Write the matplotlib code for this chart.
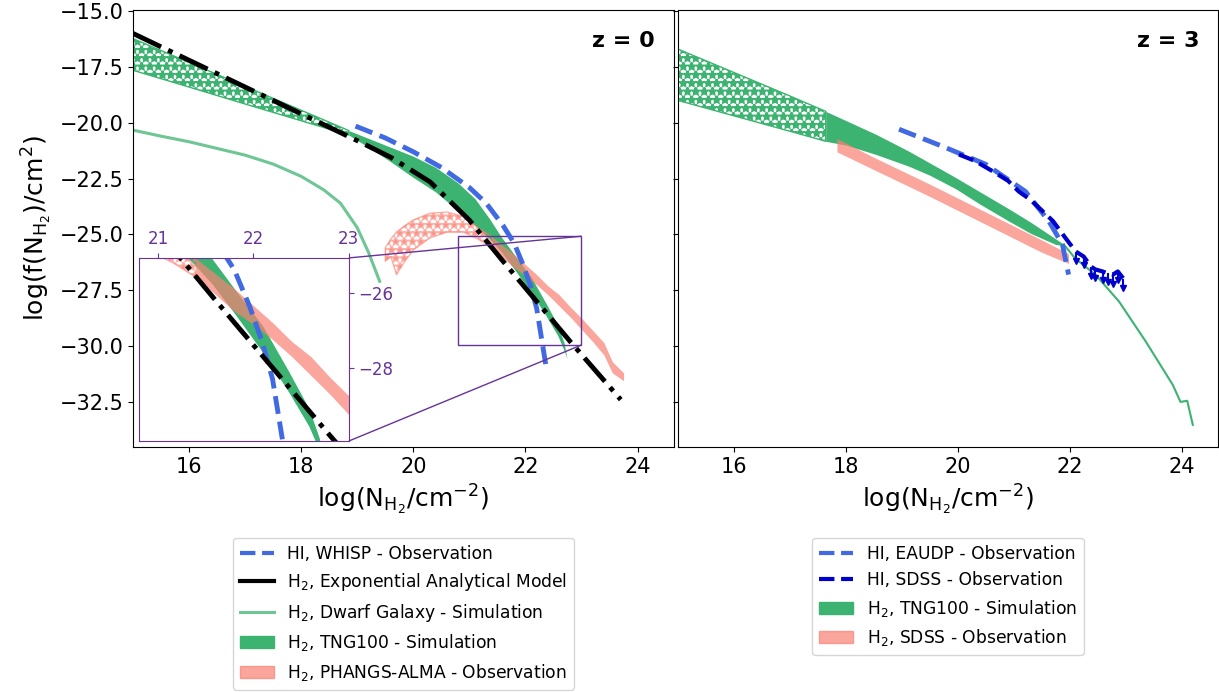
import numpy as np
import matplotlib
matplotlib.use('Agg')
import matplotlib.pyplot as plt
from matplotlib.lines import Line2D
from matplotlib.patches import Patch
from mpl_toolkits.axes_grid1.inset_locator import mark_inset

plt.rcParams['hatch.linewidth'] = 1.8

green = 'mediumseagreen'
pink = 'salmon'
purple = 'rebeccapurple'

# ---- z = 0 ----
tng0_hatch_x = [15.0, 16.0, 17.0, 18.0, 18.85]
tng0_hatch_hi = [-16.23, -17.3, -18.37, -19.44, -20.35]
tng0_hatch_lo = [-17.65, -18.4, -19.16, -19.91, -20.55]

tng0_x = [18.85, 19.2, 19.6, 20.0, 20.4, 20.8, 21.1, 21.36, 21.56, 21.8, 22.1, 22.37, 22.58, 22.69, 22.74]
tng0_hi = [-20.35, -20.7, -21.1, -21.5, -22.0, -22.7, -23.4, -24.3, -25.08, -25.9, -26.9, -28.1, -29.08, -29.87, -30.55]
tng0_lo = [-20.55, -21.1, -21.75, -22.45, -23.1, -23.95, -24.6, -25.2, -25.75, -26.55, -27.6, -28.65, -29.55, -30.2, -30.55]

exp_x = [15.0, 16.0, 17.0, 18.0, 19.0, 19.6, 20.3, 21.0, 21.6, 22.2, 22.8, 23.7]
exp_y = [-16.0, -17.2, -18.4, -19.6, -20.8, -21.55, -22.65, -24.36, -26.2, -28.0, -29.8, -32.4]

whisp_x = [18.97, 19.5, 20.0, 20.5, 21.0, 21.3, 21.6, 21.8, 21.96, 22.09, 22.2, 22.29, 22.38]
whisp_y = [-20.15, -20.68, -21.3, -22.0, -22.9, -23.6, -24.6, -25.4, -26.37, -27.3, -28.3, -29.7, -31.1]

dwarf_x = [15.0, 15.5, 16.0, 16.5, 17.0, 17.5, 18.0, 18.4, 18.7, 19.0, 19.2, 19.4]
dwarf_y = [-20.33, -20.6, -20.85, -21.15, -21.45, -21.85, -22.4, -23.0, -23.6, -24.7, -25.8, -27.1]

phangs_hatch_x = [19.5, 19.6, 19.7, 19.85, 20.0, 20.3, 20.6, 20.9, 21.15, 21.4]
phangs_hatch_hi = [-25.6, -25.2, -24.9, -24.6, -24.35, -24.05, -24.0, -24.2, -24.7, -25.1]
phangs_hatch_lo = [-26.2, -26.0, -26.8, -26.2, -25.7, -25.15, -24.9, -24.9, -25.2, -25.6]

phangs_x = [21.4, 21.6, 21.8, 22.0, 22.2, 22.4, 22.6, 22.8, 23.0, 23.2, 23.4, 23.55, 23.75]
phangs_hi = [-25.1, -25.5, -25.9, -26.35, -26.8, -27.3, -27.7, -28.25, -28.75, -29.3, -29.85, -30.7, -31.2]
phangs_lo = [-25.6, -26.05, -26.5, -26.85, -27.25, -27.7, -28.2, -28.7, -29.25, -29.8, -30.4, -31.2, -31.55]

# ---- z = 3 ----
tng3_hatch_x = [15.0, 16.0, 17.0, 17.64]
tng3_hatch_hi = [-16.7, -17.75, -18.8, -19.49]
tng3_hatch_lo = [-19.0, -19.69, -20.38, -20.83]

tng3_x = [17.64, 18.0, 18.54, 19.13, 19.5, 19.96, 20.4, 20.91, 21.3, 21.75, 21.9]
tng3_hi = [-19.49, -19.9, -20.52, -21.28, -21.8, -22.45, -23.1, -23.85, -24.45, -25.2, -25.45]
tng3_lo = [-20.83, -21.0, -21.42, -21.95, -22.35, -22.95, -23.65, -24.4, -24.95, -25.45, -25.5]

tng3_tail_x = [21.9, 22.1, 22.46, 22.88, 23.36, 23.84, 23.98, 24.1, 24.2]
tng3_tail_y = [-25.47, -26.08, -26.8, -28.0, -29.8, -31.73, -32.5, -32.45, -33.53]

sdss_h2_x = [17.84, 18.5, 19.5, 20.5, 21.5, 21.98]
sdss_h2_hi = [-20.7, -21.55, -22.75, -24.0, -25.25, -25.86]
sdss_h2_lo = [-21.3, -22.1, -23.3, -24.55, -25.8, -26.3]

eaudp_x = [18.95, 19.73, 20.5, 21.21, 21.63, 21.87, 21.98]
eaudp_y = [-20.29, -21.06, -21.86, -23.08, -24.42, -25.45, -26.8]

sdss_hi_x = [20.02, 20.3, 20.63, 20.9, 21.09, 21.3, 21.52, 21.7, 21.93, 22.11, 22.25, 22.38,
             22.46, 22.59, 22.68, 22.77, 22.86, 22.96]
sdss_hi_y = [-21.42, -21.7, -22.18, -22.6, -23.08, -23.45, -23.97, -24.4, -25.18, -25.77, -25.99,
             -26.44, -26.57, -26.66, -26.75, -26.8, -26.66, -26.98]
sdss_hi_nlim = 9  # last points are upper limits
arrow_len = 0.4


def draw_z0(ax):
    ax.fill_between(tng0_hatch_x, tng0_hatch_lo, tng0_hatch_hi, facecolor='none',
                    edgecolor=green, hatch='**', lw=1)
    ax.fill_between(tng0_x, tng0_lo, tng0_hi, color=green, lw=0)
    ax.fill_between(phangs_hatch_x, phangs_hatch_lo, phangs_hatch_hi, facecolor='none',
                    edgecolor=pink, alpha=0.6, hatch='**', lw=1)
    ax.fill_between(phangs_x, phangs_lo, phangs_hi, color=pink, alpha=0.7, lw=0)
    ax.plot(dwarf_x, dwarf_y, color=green, alpha=0.75, lw=2.2)
    ax.plot(whisp_x, whisp_y, '--', color='royalblue', lw=3.5)
    ax.plot(exp_x, exp_y, '-.', color='k', lw=3.5)


fig = plt.figure(figsize=(12.19, 6.92), dpi=100)
ax1 = fig.add_axes([133 / 1219, 1 - 447 / 692, 541 / 1219, 437 / 692])
ax2 = fig.add_axes([678 / 1219, 1 - 447 / 692, 540 / 1219, 437 / 692], sharey=ax1)

draw_z0(ax1)
ax1.set_xlim(15, 24.65)
ax1.set_ylim(-34.52, -14.95)
ax1.set_yticks([-15, -17.5, -20, -22.5, -25, -27.5, -30, -32.5])
ax1.tick_params(labelsize=15)
ax1.set_xlabel(r'log(N$_{\mathrm{H_2}}$/cm$^{-2}$)', fontsize=18)
ax1.set_ylabel(r'log(f(N$_{\mathrm{H_2}}$)/cm$^2$)', fontsize=18)
ax1.text(0.965, 0.93, 'z = 0', transform=ax1.transAxes, ha='right', va='center',
         fontsize=16, fontweight='bold')

# zoom inset
axins = ax1.inset_axes([0.011, 0.0137, 0.388, 0.419])
draw_z0(axins)
axins.set_xlim(20.8, 23.0)
axins.set_ylim(-29.95, -25.08)
axins.set_xticks([21, 22, 23])
axins.set_yticks([-26, -28])
axins.xaxis.tick_top()
axins.yaxis.tick_right()
axins.tick_params(colors=purple, labelsize=12)
for s in axins.spines.values():
    s.set_edgecolor(purple)
mark_inset(ax1, axins, loc1=1, loc2=4, fc='none', ec=purple, lw=1)

leg1 = [Line2D([], [], ls='--', color='royalblue', lw=3),
        Line2D([], [], color='k', lw=3),
        Line2D([], [], color=green, alpha=0.75, lw=2.2),
        Patch(color=green),
        Patch(color=pink, alpha=0.7)]
lab1 = ['HI, WHISP - Observation',
        r'H$_2$, Exponential Analytical Model',
        r'H$_2$, Dwarf Galaxy - Simulation',
        r'H$_2$, TNG100 - Simulation',
        r'H$_2$, PHANGS-ALMA - Observation']
ax1.legend(leg1, lab1, loc='upper center', bbox_to_anchor=(0.5, -0.188), fontsize=12.3)

# ---- right panel ----
ax2.fill_between(tng3_hatch_x, tng3_hatch_lo, tng3_hatch_hi, facecolor='none',
                 edgecolor=green, hatch='**', lw=1)
ax2.fill_between(tng3_x, tng3_lo, tng3_hi, color=green, lw=0)
ax2.plot(tng3_tail_x, tng3_tail_y, color=green, lw=1.5)
ax2.fill_between(sdss_h2_x, sdss_h2_lo, sdss_h2_hi, color=pink, alpha=0.7, lw=0)
ax2.plot(eaudp_x, eaudp_y, '--', color='royalblue', lw=3.5)
ax2.plot(sdss_hi_x, sdss_hi_y, '--', color='mediumblue', lw=3)
lim_x = np.array(sdss_hi_x[-sdss_hi_nlim:])
lim_y = np.array(sdss_hi_y[-sdss_hi_nlim:])
ax2.vlines(lim_x, lim_y - arrow_len, lim_y, color='mediumblue', lw=1.5)
ax2.plot(lim_x, lim_y - arrow_len, 'v', color='mediumblue', ms=4.5, ls='none')
ax2.set_xlim(15, 24.65)
ax2.tick_params(labelsize=15, labelleft=False)
ax2.set_xlabel(r'log(N$_{\mathrm{H_2}}$/cm$^{-2}$)', fontsize=18)
ax2.text(0.965, 0.93, 'z = 3', transform=ax2.transAxes, ha='right', va='center',
         fontsize=16, fontweight='bold')

leg2 = [Line2D([], [], ls='--', color='royalblue', lw=3),
        Line2D([], [], ls='--', color='mediumblue', lw=3),
        Patch(color=green),
        Patch(color=pink, alpha=0.7)]
lab2 = ['HI, EAUDP - Observation',
        'HI, SDSS - Observation',
        r'H$_2$, TNG100 - Simulation',
        r'H$_2$, SDSS - Observation']
ax2.legend(leg2, lab2, loc='upper center', bbox_to_anchor=(0.5, -0.188), fontsize=12.3)

fig.savefig('out.png', dpi=100)
